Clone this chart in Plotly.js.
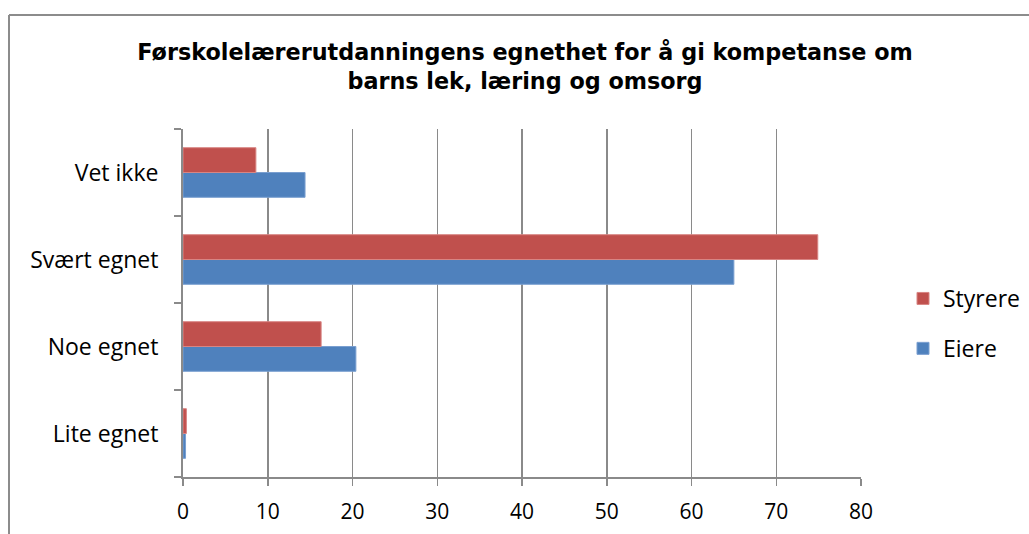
<!DOCTYPE html>
<html>
<head>
<meta charset="utf-8">
<script src="https://cdn.plot.ly/plotly-3.0.1.min.js"></script>
<style>html,body{margin:0;padding:0;background:#fff;}#chart{width:1029px;height:534px;}</style>
</head>
<body>
<div id="chart"></div>
<script>
const categories = ['Lite egnet', 'Noe egnet', 'Svært egnet', 'Vet ikke'];
const eiere = [0.3, 20.4, 65.0, 14.4];
const styrere = [0.4, 16.3, 74.9, 8.6];
const xTicks = [0, 10, 20, 30, 40, 50, 60, 70, 80];

const W = 1029, H = 534;
const L = 183, R = 168, T = 129, B = 57;
const pw = W - L - R, ph = H - T - B;
const px = x => (x - L) / pw;
const py = y => 1 - (y - T) / ph;

const xFont = {family: '"Open Sans", Lato, sans-serif', size: 21, color: '#000'};
const yFont = {family: '"Open Sans", Lato, sans-serif', size: 23, color: '#000'};

const traces = [
  {type: 'bar', orientation: 'h', name: 'Eiere', y: categories, x: eiere,
   marker: {color: '#4F81BD', line: {color: '#7a9fd0', width: 1}}, legendgroup: 'e', legendrank: 2},
  {type: 'bar', orientation: 'h', name: 'Styrere', y: categories, x: styrere,
   marker: {color: '#C0504D', line: {color: '#d88583', width: 1}}, legendgroup: 's', legendrank: 1}
];

const layout = {
  width: W, height: H,
  margin: {l: L, r: R, t: T, b: B, autoexpand: false},
  paper_bgcolor: '#fff', plot_bgcolor: '#fff',
  barmode: 'group', bargap: 0.43, bargroupgap: 0,
  title: {
    text: 'Førskolelærerutdanningens egnethet for å gi kompetanse om<br>barns lek, læring og omsorg',
    font: {family: '"DejaVu Sans", sans-serif', size: 22.3, color: '#000', weight: 'bold'},
    x: 525 / W, xanchor: 'center', xref: 'container',
    y: 1 - 60 / H, yanchor: 'top', yref: 'container'
  },
  xaxis: {
    range: [0, 80], tickvals: xTicks, ticktext: xTicks.map(String),
    showgrid: true, gridcolor: '#8a8a8a', gridwidth: 1.5,
    showline: true, linecolor: '#8a8a8a', linewidth: 2,
    ticks: 'outside', ticklen: 7, tickcolor: '#8a8a8a', tickwidth: 1.5,
    tickfont: xFont, zeroline: false, fixedrange: true,
    ticklabelstandoff: 8
  },
  yaxis: {
    type: 'category', categoryorder: 'array', categoryarray: categories,
    showline: true, linecolor: '#8a8a8a', linewidth: 2,
    ticks: 'outside', ticklen: 7, tickcolor: '#8a8a8a', tickwidth: 1.5,
    tickson: 'boundaries', showgrid: false, tickfont: yFont,
    ticklabelstandoff: 18, fixedrange: true
  },
  showlegend: true,
  legend: {
    xref: 'container', yref: 'container',
    x: 903 / W, y: 1 - 277 / H, xanchor: 'left', yanchor: 'top',
    traceorder: 'grouped', tracegroupgap: 17,
    font: yFont, bgcolor: 'rgba(0,0,0,0)'
  },
  shapes: [
    {type: 'line', xref: 'paper', yref: 'paper', x0: px(9), x1: px(9), y0: py(H + 10), y1: py(15),
     line: {color: '#8c8c8c', width: 2}},
    {type: 'line', xref: 'paper', yref: 'paper', x0: px(9), x1: px(W + 10), y0: py(15), y1: py(15),
     line: {color: '#8c8c8c', width: 2}}
  ]
};

Plotly.newPlot('chart', traces, layout, {displayModeBar: false, staticPlot: true});
</script>
</body>
</html>
